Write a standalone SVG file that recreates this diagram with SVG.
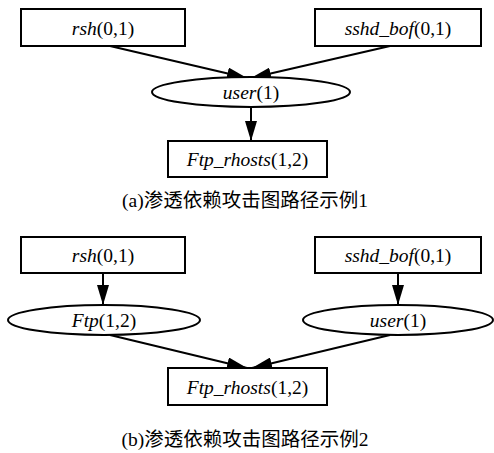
<svg xmlns="http://www.w3.org/2000/svg" width="494" height="453" viewBox="0 0 494 453">
<style>
  .box { fill: #ffffff; stroke: #000000; stroke-width: 2; }
  .ell { fill: #ffffff; stroke: #000000; stroke-width: 2; }
  .lbl { font-family: "Liberation Serif", "Times New Roman", serif; font-size: 19.5px; fill: #000000; text-anchor: middle; }
  .it { font-style: italic; }
  .cap { font-family: "Liberation Serif", "Noto Sans CJK SC", serif; font-size: 19.5px; fill: #000000; text-anchor: middle; }
  .edge { stroke: #000000; stroke-width: 2; fill: none; marker-end: url(#arrow); }
</style>
<defs>
  <marker id="arrow" viewBox="0 0 20 12" refX="20" refY="6" markerWidth="20" markerHeight="12" markerUnits="userSpaceOnUse" orient="auto">
    <path d="M0,0 L20,6 L0,12 Z" fill="#000000"/>
  </marker>
</defs>
<rect width="494" height="453" fill="#ffffff"/>

<g id="connectors">
  <line class="edge" x1="110" y1="46" x2="247" y2="78"/>
  <line class="edge" x1="390" y1="46" x2="251" y2="78"/>
  <line class="edge" x1="251" y1="107" x2="251" y2="141"/>
  <line class="edge" x1="103" y1="273" x2="103" y2="305"/>
  <line class="edge" x1="398" y1="273" x2="398" y2="305"/>
  <line class="edge" x1="110" y1="335" x2="247" y2="368"/>
  <line class="edge" x1="390" y1="335" x2="252" y2="368"/>
</g>

<g id="a_rsh">
  <rect class="box" x="21" y="9" width="164" height="37"/>
  <text class="lbl" x="103" y="35"><tspan class="it">rsh</tspan>(0,1)</text>
</g>
<g id="a_sshd_bof">
  <rect class="box" x="315" y="9" width="166" height="37"/>
  <text class="lbl" x="398" y="35"><tspan class="it">sshd_bof</tspan>(0,1)</text>
</g>
<g id="a_user">
  <ellipse class="ell" cx="251" cy="92" rx="99" ry="15"/>
  <text class="lbl" x="251" y="99"><tspan class="it">user</tspan>(1)</text>
</g>
<g id="a_ftp_rhosts">
  <rect class="box" x="168" y="141" width="159" height="36"/>
  <text class="lbl" x="247.5" y="166"><tspan class="it">Ftp_rhosts</tspan>(1,2)</text>
</g>
<text class="cap" x="245" y="207">(a)渗透依赖攻击图路径示例1</text>

<g id="b_rsh">
  <rect class="box" x="21" y="237" width="164" height="36"/>
  <text class="lbl" x="103" y="262"><tspan class="it">rsh</tspan>(0,1)</text>
</g>
<g id="b_sshd_bof">
  <rect class="box" x="315" y="237" width="166" height="36"/>
  <text class="lbl" x="398" y="262"><tspan class="it">sshd_bof</tspan>(0,1)</text>
</g>
<g id="b_ftp">
  <ellipse class="ell" cx="104" cy="320" rx="96" ry="15"/>
  <text class="lbl" x="104" y="327"><tspan class="it">Ftp</tspan>(1,2)</text>
</g>
<g id="b_user">
  <ellipse class="ell" cx="398" cy="320" rx="95" ry="15"/>
  <text class="lbl" x="398" y="327"><tspan class="it">user</tspan>(1)</text>
</g>
<g id="b_ftp_rhosts">
  <rect class="box" x="168" y="368" width="159" height="37"/>
  <text class="lbl" x="247.5" y="394"><tspan class="it">Ftp_rhosts</tspan>(1,2)</text>
</g>
<text class="cap" x="245" y="446">(b)渗透依赖攻击图路径示例2</text>
</svg>
